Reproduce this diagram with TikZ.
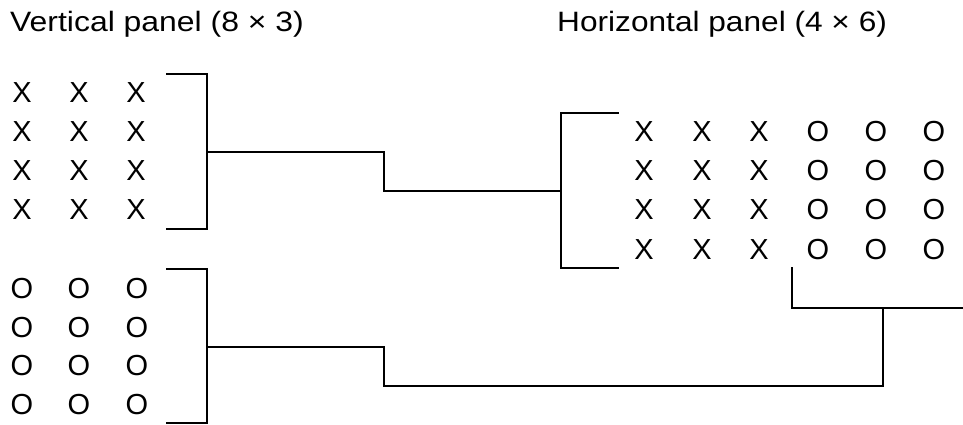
\documentclass[tikz,border=0pt]{standalone}
\usepackage{fontspec}
\setmainfont{Liberation Sans}
\begin{document}
\begin{tikzpicture}[x=1pt,y=-1pt,
  cell/.style={inner sep=0pt,font=\fontsize{29}{33}\selectfont},
  ttl/.style={inner sep=0pt,anchor=base west,font=\fontsize{28}{32}\selectfont},
  wire/.style={line width=2pt,line cap=rect}]
\useasboundingbox (0,0) rectangle (963,425);
% titles
\node[ttl] (t1) at (10,32) {\scalebox{1.14}[1]{Vertical panel (8 × 3)}};
\node[ttl] (t2) at (557,32) {\scalebox{1.13}[1]{Horizontal panel (4 × 6)}};
% left X grid
\foreach \r/\y in {1/93,2/132,3/171,4/210}
  \foreach \c/\x in {1/22,2/79,3/136}
    \node[cell] (lx\r\c) at (\x,\y) {X};
% left O grid
\foreach \r/\y in {1/289,2/328,3/366,4/405}
  \foreach \c/\x in {1/22,2/79,3/137}
    \node[cell] (lo\r\c) at (\x,\y) {O};
% right grid
\foreach \r/\y in {1/132,2/171,3/210,4/250}{
  \foreach \c/\x in {1/644,2/702,3/759}
    \node[cell] (rx\r\c) at (\x,\y) {X};
  \foreach \c/\x in {1/818,2/876,3/934}
    \node[cell] (ro\r\c) at (\x,\y) {O};
}
% bracket coordinates
\coordinate (a1) at (167,74);  \coordinate (a2) at (207,74);
\coordinate (a3) at (207,229); \coordinate (a4) at (167,229);
\coordinate (am) at (207,152);
\coordinate (b1) at (167,269); \coordinate (b2) at (207,269);
\coordinate (b3) at (207,423); \coordinate (b4) at (167,423);
\coordinate (bm) at (207,347);
\coordinate (c1) at (618,113); \coordinate (c2) at (561,113);
\coordinate (c3) at (561,268); \coordinate (c4) at (618,268);
\coordinate (cm) at (561,191);
\coordinate (d1) at (792,268); \coordinate (d2) at (792,308);
\coordinate (d3) at (962,308); \coordinate (dm) at (883,308);
% brackets
\draw[wire] (a1) -- (a2) -- (a3) -- (a4);
\draw[wire] (b1) -- (b2) -- (b3) -- (b4);
\draw[wire] (c1) -- (c2) -- (c3) -- (c4);
\draw[wire] (d1) -- (d2) -- (d3);
% connectors
\draw[wire] (am) -- (384,152) -- (384,191) -- (cm);
\draw[wire] (bm) -- (384,347) -- (384,386) -- (883,386) -- (dm);
\end{tikzpicture}
\end{document}
